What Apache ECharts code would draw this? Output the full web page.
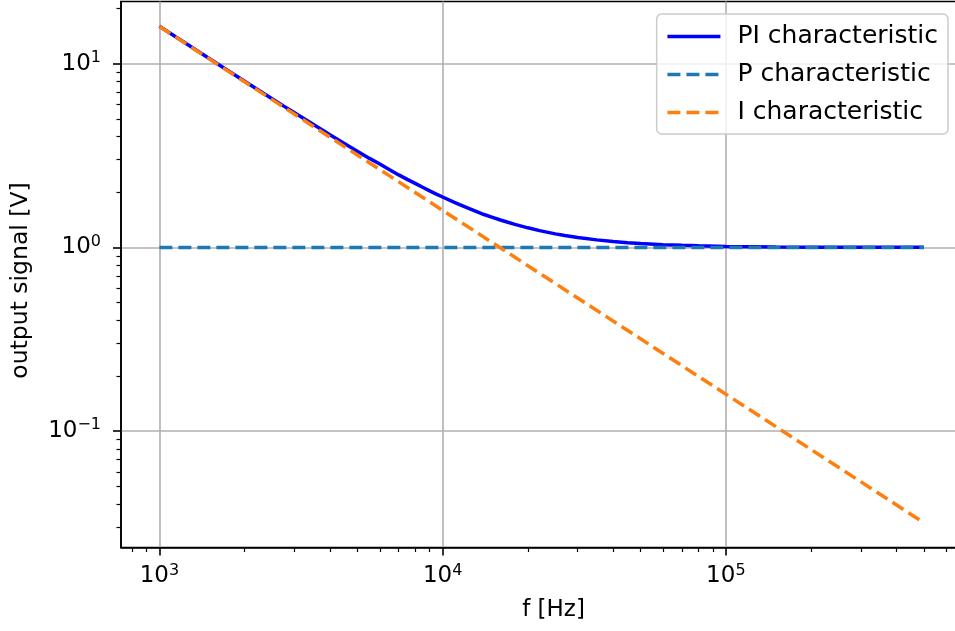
<!DOCTYPE html>
<html><head><meta charset="utf-8">
<script src="https://cdn.jsdelivr.net/npm/echarts@6/dist/echarts.min.js"></script>
<style>html,body{margin:0;padding:0;background:#fff}#c{width:955px;height:631px}</style>
</head><body><div id="c"></div>
<script>
// ---- data ----
const freqPI = [1000, 1250, 1500, 1750, 2000, 2250, 2500, 2750, 3000, 3500, 4000, 4500, 5000, 5500, 6000,
  6500, 7000, 7500, 8000, 8500, 9000, 9500, 10000, 11000, 12000, 13000, 14000, 15000, 16000, 17000,
  18000, 20000, 22000, 25000, 27000, 30000, 35000, 40000, 45000, 50000, 60000, 70000, 80000,
  100000, 150000, 200000, 300000, 500000];
const valuesPI = [15.95, 12.77, 10.66, 9.15, 8.02, 7.14, 6.44, 5.87, 5.40, 4.66, 4.10, 3.68, 3.34, 3.06, 2.84,
  2.645, 2.48, 2.346, 2.23, 2.123, 2.03, 1.951, 1.88, 1.759, 1.66, 1.581, 1.51, 1.458, 1.41, 1.370,
  1.335, 1.278, 1.234, 1.185, 1.161, 1.132, 1.099, 1.076, 1.061, 1.049, 1.035, 1.026, 1.020,
  1.013, 1.006, 1.003, 1.0014, 1.0005];
const freqP = [1000, 500000];
const valuesP = [1, 1];
const freqI = [1000, 500000];
const valuesI = [15.92, 0.0318];
const seriesNames = ['PI characteristic', 'P characteristic', 'I characteristic'];
const xMajorTicks = [1000, 10000, 100000];
const xMinorTicks = [800, 900, 2000, 3000, 4000, 5000, 6000, 7000, 8000, 9000,
  20000, 30000, 40000, 50000, 60000, 70000, 80000, 90000,
  200000, 300000, 400000, 500000, 600000];
const yMajorTicks = [0.1, 1, 10];
const yMinorTicks = [0.03, 0.04, 0.05, 0.06, 0.07, 0.08, 0.09,
  0.2, 0.3, 0.4, 0.5, 0.6, 0.7, 0.8, 0.9, 2, 3, 4, 5, 6, 7, 8, 9, 20];
const xRange = [732, 682000];
const yRange = [0.0233, 21.77];

const FONT = 'DejaVu Sans';
function pow10Label(v) {
  const e = Math.round(Math.log10(v));
  return '{b|10}{s|' + String(e).replace('-', '\u2212') + '}';
}
const richLbl = {
  b: { fontSize: 23, fontFamily: FONT, color: '#000', lineHeight: 28 },
  s: { fontSize: 16, fontFamily: FONT, color: '#000', lineHeight: 22, verticalAlign: 'top' }
};
const pairs = (xs, ys) => xs.map((x, i) => [x, ys[i]]);

const chart = echarts.init(document.getElementById('c'), null, { renderer: 'canvas' });
chart.setOption({
  animation: false,
  backgroundColor: '#fff',
  grid: {
    left: 121, top: 1.5, width: 841, height: 546,
    show: true, borderColor: '#000', borderWidth: 1.6, backgroundColor: 'transparent',
    containLabel: false, outerBoundsMode: 'none'
  },
  legend: {
    orient: 'vertical', right: 7, top: 14,
    data: seriesNames,
    itemWidth: 53, itemHeight: 24, itemGap: 13,
    padding: [10, 10, 9, 9],
    backgroundColor: 'rgba(255,255,255,0.8)',
    borderColor: '#cccccc', borderWidth: 1.5, borderRadius: 5,
    itemStyle: { opacity: 0, borderWidth: 0 },
    lineStyle: { width: 3.5 },
    textStyle: { fontFamily: FONT, fontSize: 25, color: '#000', padding: [0, 0, 0, 12] }
  },
  xAxis: [{
    type: 'log', logBase: 10, min: xRange[0], max: xRange[1], position: 'bottom',
    name: 'f [Hz]', nameLocation: 'middle', nameGap: 51,
    nameTextStyle: { fontFamily: FONT, fontSize: 23, color: '#000', padding: [0, 0, 0, 24] },
    axisLine: { show: true, lineStyle: { color: '#000', width: 1.6 } },
    axisTick: { show: true, inside: false, length: 8, customValues: xMajorTicks, lineStyle: { color: '#000', width: 1.6 } },
    axisLabel: { show: true, margin: 15, customValues: xMajorTicks, formatter: pow10Label, rich: richLbl },
    splitLine: { show: true, lineStyle: { color: '#b0b0b0', width: 1.6 } },
    minorTick: { show: false }, minorSplitLine: { show: false }
  }, {
    type: 'log', logBase: 10, min: xRange[0], max: xRange[1], position: 'bottom', offset: 0,
    axisLine: { show: false },
    axisTick: { show: true, inside: false, length: 4.5, customValues: xMinorTicks, lineStyle: { color: '#000', width: 1.2 } },
    axisLabel: { show: false },
    splitLine: { show: false }
  }],
  yAxis: [{
    type: 'log', logBase: 10, min: yRange[0], max: yRange[1], position: 'left',
    name: 'output signal [V]', nameLocation: 'middle', nameGap: 88,
    nameTextStyle: { fontFamily: FONT, fontSize: 23.5, color: '#000', padding: [0, 12, 0, 0] },
    axisLine: { show: true, lineStyle: { color: '#000', width: 1.6 } },
    axisTick: { show: true, inside: false, length: 8, customValues: yMajorTicks, lineStyle: { color: '#000', width: 1.6 } },
    axisLabel: { show: true, margin: 20, customValues: yMajorTicks, formatter: pow10Label, rich: richLbl },
    splitLine: { show: true, lineStyle: { color: '#b0b0b0', width: 1.6 } },
    minorTick: { show: false }, minorSplitLine: { show: false }
  }, {
    type: 'log', logBase: 10, min: yRange[0], max: yRange[1], position: 'left', offset: 0,
    axisLine: { show: false },
    axisTick: { show: true, inside: false, length: 4.5, customValues: yMinorTicks, lineStyle: { color: '#000', width: 1.2 } },
    axisLabel: { show: false },
    splitLine: { show: false }
  }],
  series: [{
    name: seriesNames[0], type: 'line', xAxisIndex: 0, yAxisIndex: 0,
    data: pairs(freqPI, valuesPI), symbol: 'none', smooth: false,
    lineStyle: { color: '#0000ff', width: 3.5, type: 'solid' }, itemStyle: { color: '#0000ff' }
  }, {
    name: seriesNames[1], type: 'line', xAxisIndex: 0, yAxisIndex: 0,
    data: pairs(freqP, valuesP), symbol: 'none',
    lineStyle: { color: '#1f77b4', width: 3.5, type: [13, 6] }, itemStyle: { color: '#1f77b4' }
  }, {
    name: seriesNames[2], type: 'line', xAxisIndex: 0, yAxisIndex: 0,
    data: pairs(freqI, valuesI), symbol: 'none',
    lineStyle: { color: '#ff7f0e', width: 3.5, type: [13, 6] }, itemStyle: { color: '#ff7f0e' }
  }]
});
</script>
</body></html>
